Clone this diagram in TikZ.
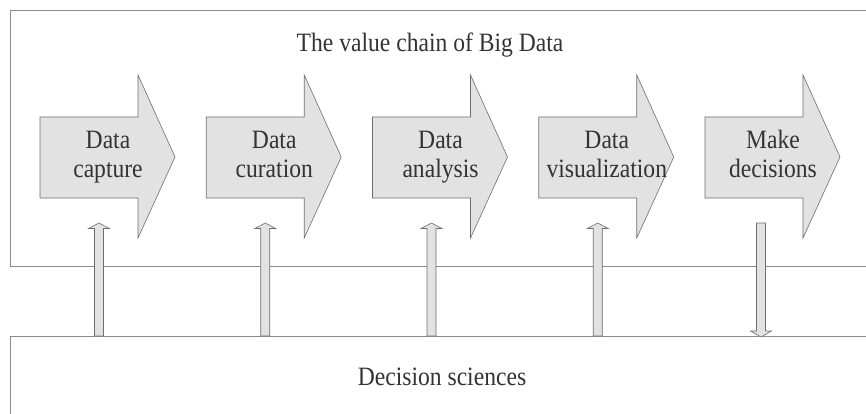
\documentclass[tikz,border=0pt]{standalone}
\usepackage{fontspec}
\setmainfont{Liberation Serif}[FakeStretch=0.89]
\definecolor{framegray}{HTML}{8C8C8C}
\definecolor{arrowfill}{HTML}{E2E2E2}
\definecolor{arrowline}{HTML}{6E6E6E}
\definecolor{textgray}{HTML}{333333}
\tikzstyle{frame} = [draw=framegray, line width=0.9pt]
\tikzstyle{stage} = [fill=arrowfill, draw=arrowline, line width=0.6pt, line join=miter]
\tikzstyle{stagename} = [text=textgray, align=center, text depth=6pt, font=\fontsize{26.5}{29}\selectfont]
\tikzstyle{heading} = [text=textgray, font=\fontsize{26.5}{29}\selectfont, anchor=base]
\tikzstyle{feed} = [fill=arrowfill, draw=arrowline, line width=0.6pt]

\begin{document}
\begin{tikzpicture}[x=1pt,y=-1pt]
		\useasboundingbox (0,0) rectangle (866,414);
		% Draw frames
		\draw [frame] (870,10) -| (10,266) -- (870,266);
		\draw [frame] (870,336) -| (10,420);
		\node [heading] (title) at (430,52) {The value chain of Big Data};
		\node [heading] (sciences) at (442,385) {Decision sciences};
		% Draw stages (big arrows)
		\foreach \i/\x/\txt in {1/40/{Data\\capture}, 2/206.25/{Data\\curation},
				3/372.5/{Data\\analysis}, 4/538.75/{Data\\visualization}, 5/705/{Make\\decisions}} {
			\filldraw [stage] (\x,117) -- ++(98,0) -- ++(0,-42) -- ++(37,82)
				-- ++(-37,81) -- ++(0,-40) -- ++(-98,0) -- cycle;
			\node [stagename] (stage\i) at (\x+68,157) {\txt};
			\coordinate (feed\i) at (\x+59,223);
		}
		% Draw arrows from decision sciences up to the chain
		\foreach \i in {1,2,3,4} {
			\filldraw [feed] (feed\i) -- ++(10.5,5.5) -- ++(-6,0) -- ++(0,107.5)
				-- ++(-9,0) -- ++(0,-107.5) -- ++(-6,0) -- cycle;
		}
		% Draw arrow from decisions down to decision sciences
		\coordinate (back) at (761,337);
		\filldraw [feed] (back) -- ++(10.5,-6) -- ++(-6,0) -- ++(0,-108)
			-- ++(-9,0) -- ++(0,108) -- ++(-6,0) -- cycle;
	\end{tikzpicture}
\end{document}
